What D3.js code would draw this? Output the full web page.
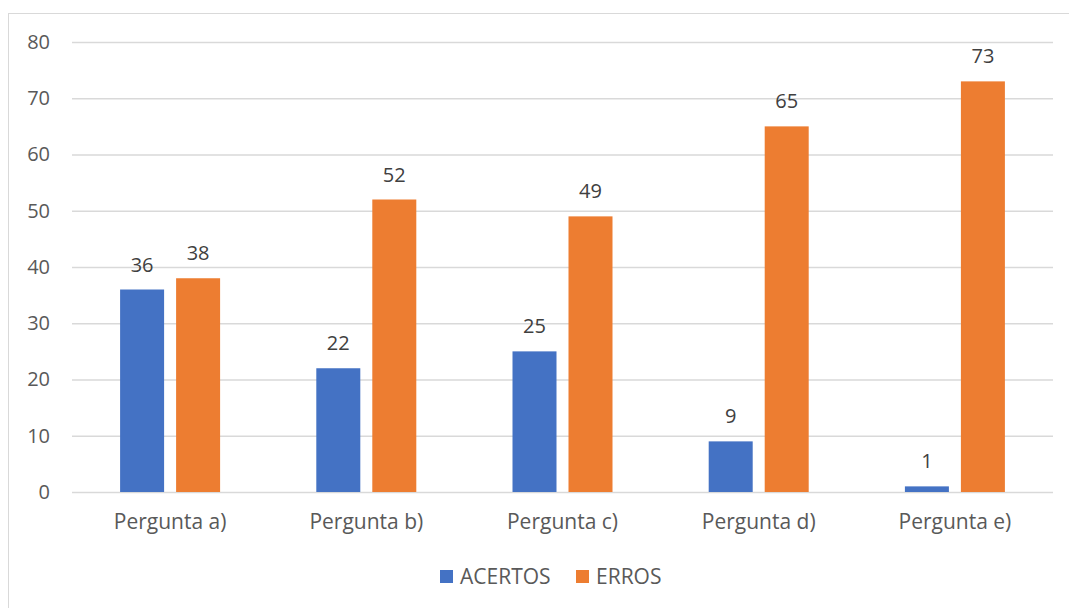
<!DOCTYPE html>
<html>
<head>
<meta charset="utf-8">
<script src="https://cdn.jsdelivr.net/npm/d3@7"></script>
<style>
  html, body { margin: 0; padding: 0; background: #fff; }
  svg { display: block; }
  text { font-family: "Open Sans", "Noto Sans", sans-serif; }
</style>
</head>
<body>
<svg id="chart" width="1069" height="608"></svg>
<script>
const categories = ["Pergunta a)", "Pergunta b)", "Pergunta c)", "Pergunta d)", "Pergunta e)"];
const seriesNames = ["ACERTOS", "ERROS"];
const acertos = [36, 22, 25, 9, 1];
const erros = [38, 52, 49, 65, 73];
const yTicks = [0, 10, 20, 30, 40, 50, 60, 70, 80];
const colors = ["#4472c4", "#ed7d31"];

const svg = d3.select("#chart");
const W = 1069, H = 608;
const plot = { left: 72, right: 1053, top: 42, bottom: 492 };

// Chart frame
svg.append("rect")
  .attr("x", 8.5).attr("y", 13.5)
  .attr("width", W + 20).attr("height", H + 20)
  .attr("fill", "#fff").attr("stroke", "#d9d9d9").attr("stroke-width", 1);

const x = d3.scaleBand().domain(categories).range([plot.left, plot.right]);
const xs = d3.scaleBand().domain(seriesNames).range([-50, 50]).paddingInner(12 / 56);
const y = d3.scaleLinear().domain([0, 80]).range([plot.bottom, plot.top]);

// Horizontal gridlines with value labels
const yAxis = d3.axisLeft(y).tickValues(yTicks).tickSize(-(plot.right - plot.left)).tickPadding(22);
const gy = svg.append("g").attr("transform", `translate(${plot.left},0)`).call(yAxis);
gy.select(".domain").remove();
gy.selectAll(".tick line").attr("stroke", "#d9d9d9").attr("stroke-width", 1.3);
gy.selectAll(".tick text")
  .attr("fill", "#595959").style("font-size", "20px")
  .style("font-family", "'Open Sans', 'Noto Sans', sans-serif");

// Category labels
const xAxis = d3.axisBottom(x).tickSize(0).tickPadding(22);
const gx = svg.append("g").attr("transform", `translate(0,${plot.bottom})`).call(xAxis);
gx.select(".domain").remove();
gx.selectAll(".tick text")
  .attr("fill", "#595959").style("font-size", "21px")
  .style("font-family", "'Open Sans', 'Noto Sans', sans-serif");

const rows = categories.map((c, i) => ({ cat: c, values: [acertos[i], erros[i]] }));

const groups = svg.append("g").selectAll("g").data(rows).join("g")
  .attr("transform", d => `translate(${x(d.cat) + x.bandwidth() / 2},0)`);

groups.selectAll("rect").data(d => d.values.map((v, j) => ({ v, s: seriesNames[j], j })))
  .join("rect")
  .attr("x", d => xs(d.s))
  .attr("width", xs.bandwidth())
  .attr("y", d => y(d.v))
  .attr("height", d => y(0) - y(d.v))
  .attr("fill", d => colors[d.j]);

groups.selectAll("text.val").data(d => d.values.map((v, j) => ({ v, s: seriesNames[j] })))
  .join("text").attr("class", "val")
  .attr("x", d => xs(d.s) + xs.bandwidth() / 2)
  .attr("y", d => y(d.v) - 18)
  .attr("text-anchor", "middle")
  .attr("fill", "#404040").style("font-size", "20px")
  .text(d => d.v);

// Legend
const legend = svg.append("g");
const legendX = [440, 576];
seriesNames.forEach((name, i) => {
  legend.append("rect").attr("x", legendX[i]).attr("y", 570)
    .attr("width", 13).attr("height", 13).attr("fill", colors[i]);
  legend.append("text").attr("x", legendX[i] + 20).attr("y", 584)
    .attr("fill", "#595959").style("font-size", "21px").text(name);
});
</script>
</body>
</html>
